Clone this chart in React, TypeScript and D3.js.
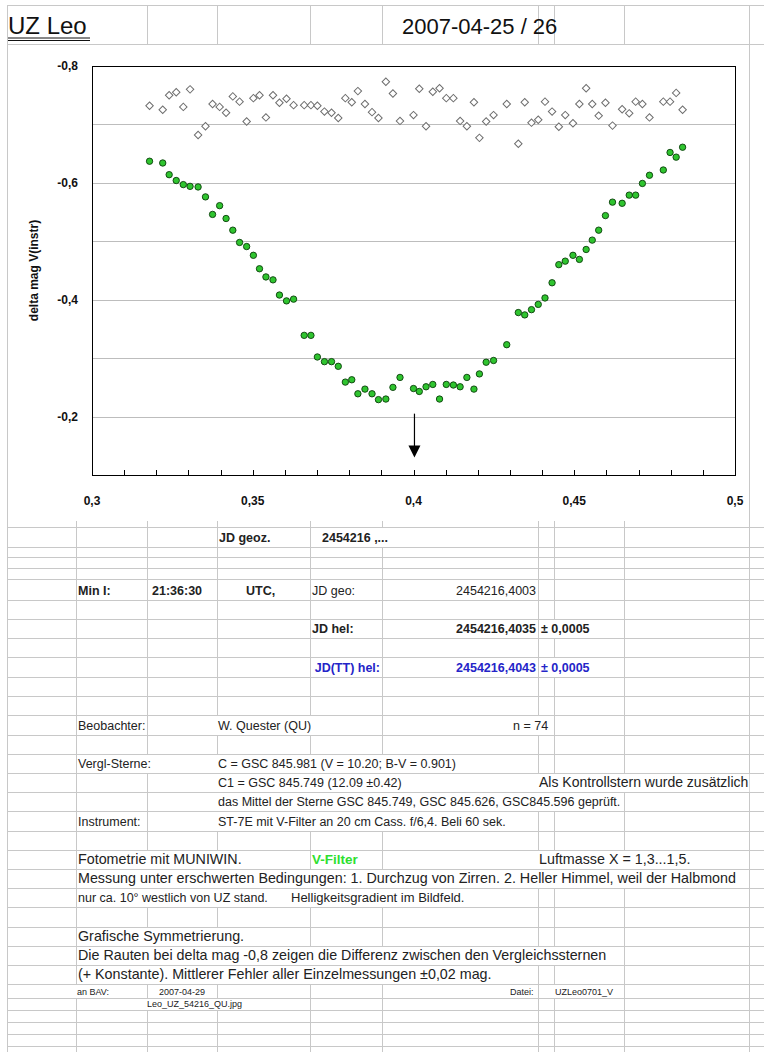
import React, { useEffect, useRef } from "react";
import * as d3 from "d3";

// JD geoz. minus 2454216 (fraction of day)
const jdFrac = [
  0.3179, 0.322, 0.324, 0.3262, 0.3284, 0.3305, 0.333, 0.3353, 0.3375, 0.3397,
  0.3417, 0.3438, 0.3459, 0.3481, 0.3502, 0.3521, 0.3541, 0.3563, 0.3583, 0.3605,
  0.3627, 0.366, 0.3681, 0.3701, 0.3723, 0.3745, 0.3766, 0.3788, 0.3808, 0.3827,
  0.3849, 0.3871, 0.3891, 0.3914, 0.3936, 0.3958, 0.4, 0.4018, 0.4039, 0.406,
  0.4081, 0.4102, 0.4124, 0.4145, 0.4166, 0.4188, 0.4205, 0.4226, 0.4249, 0.429,
  0.4326, 0.4346, 0.4367, 0.4388, 0.4409, 0.4431, 0.4452, 0.4472, 0.4496, 0.4516,
  0.4537, 0.4556, 0.4576, 0.4597, 0.4619, 0.4649, 0.4671, 0.4691, 0.4712, 0.4734,
  0.4777, 0.4798, 0.4817, 0.4837,
];

// delta mag V(instr) UZ Leo - C
const deltaMag = [
  -0.637, -0.634, -0.614, -0.604, -0.597, -0.594, -0.593, -0.576, -0.546, -0.561,
  -0.539, -0.519, -0.498, -0.491, -0.476, -0.453, -0.439, -0.434, -0.408, -0.398,
  -0.401, -0.339, -0.339, -0.302, -0.294, -0.294, -0.286, -0.259, -0.263, -0.239,
  -0.247, -0.239, -0.229, -0.23, -0.25, -0.267, -0.248, -0.243, -0.251, -0.255,
  -0.23, -0.255, -0.254, -0.251, -0.267, -0.247, -0.273, -0.293, -0.296, -0.323,
  -0.378, -0.374, -0.383, -0.392, -0.403, -0.429, -0.46, -0.466, -0.476, -0.469,
  -0.486, -0.502, -0.519, -0.544, -0.567, -0.565, -0.579, -0.579, -0.599, -0.613,
  -0.622, -0.652, -0.644, -0.661,
];

// Differenz der Vergleichssterne (+ Konstante)
const compDiff = [
  -0.732, -0.725, -0.75, -0.755, -0.73, -0.76, -0.682, -0.697, -0.735, -0.73,
  -0.72, -0.748, -0.739, -0.705, -0.745, -0.75, -0.712, -0.75, -0.737, -0.744,
  -0.733, -0.733, -0.733, -0.732, -0.722, -0.72, -0.711, -0.745, -0.738, -0.757,
  -0.735, -0.721, -0.711, -0.773, -0.753, -0.706, -0.716, -0.761, -0.697, -0.756,
  -0.762, -0.745, -0.745, -0.706, -0.697, -0.738, -0.677, -0.705, -0.716, -0.735,
  -0.667, -0.738, -0.703, -0.708, -0.739, -0.722, -0.696, -0.716, -0.702, -0.735,
  -0.762, -0.735, -0.715, -0.737, -0.698, -0.726, -0.719, -0.739, -0.735, -0.712,
  -0.739, -0.739, -0.754, -0.725,
];

const xTickLabels = [0.3, 0.35, 0.4, 0.45, 0.5];
const yTickLabels = [-0.8, -0.6, -0.4, -0.2];
const yGridValues = [-0.7, -0.6, -0.5, -0.4, -0.3, -0.2];
const minTime = 0.4003;
const arrowMag = [-0.205, -0.13];

const W = 764;
const H = 1052;
const FONT = "'Liberation Sans', Arial, sans-serif";

const App = () => {
  const svgRef = useRef<SVGSVGElement>(null);

  useEffect(() => {
    const svg = d3.select(svgRef.current);
    svg.selectAll("*").remove();

    // spreadsheet grid
    const colX = [7, 76, 147, 217, 310, 382, 538, 554, 624, 749];
    const rowY = [
      527, 547, 557, 568, 579, 600, 619, 638, 657, 677, 696, 715, 735, 754, 773,
      792, 811, 831, 850, 869, 888, 907, 927, 946, 965, 984, 998, 1010, 1022,
      1034, 1046,
    ];
    const grid = svg
      .append("g")
      .attr("stroke", "#c8c8c8")
      .attr("shape-rendering", "crispEdges");
    [5, 44, ...rowY].forEach((y) => {
      grid.append("line").attr("x1", 7).attr("x2", W).attr("y1", y + 0.5).attr("y2", y + 0.5);
    });
    colX.forEach((x) => {
      grid.append("line").attr("x1", x + 0.5).attr("x2", x + 0.5).attr("y1", 5).attr("y2", H);
    });

    // cell text, hides the grid lines it runs over (like Excel)
    const cell = (
      text: string,
      x: number,
      top: number,
      bottom: number,
      opts: { bold?: boolean; color?: string; size?: number; end?: boolean } = {}
    ) => {
      const g = svg.append("g");
      const bg = g.append("rect").attr("fill", "#fff");
      const size = opts.size ?? 12.5;
      const t = g
        .append("text")
        .attr("x", x)
        .attr("y", bottom - (size < 11 ? 3 : 5))
        .attr("font-family", FONT)
        .attr("font-size", size)
        .attr("font-weight", opts.bold ? "bold" : "normal")
        .attr("fill", opts.color ?? "#222")
        .attr("text-anchor", opts.end ? "end" : "start")
        .text(text);
      const len = (t.node() as SVGTextElement).getComputedTextLength();
      const x0 = opts.end ? x - len : x;
      bg.attr("x", x0 - 1)
        .attr("y", top + 1)
        .attr("width", len + 2)
        .attr("height", bottom - top - 1);
    };

    // header row
    const title = svg.append("g").attr("font-family", FONT).attr("fill", "#111");
    title.append("rect").attr("x", 8).attr("y", 6).attr("width", 86).attr("height", 38).attr("fill", "#fff");
    title.append("text").attr("x", 8).attr("y", 34).attr("font-size", 24).text("UZ Leo");
    title.append("line").attr("x1", 8).attr("x2", 90).attr("y1", 38).attr("y2", 38).attr("stroke", "#111");
    title.append("line").attr("x1", 8).attr("x2", 90).attr("y1", 40.5).attr("y2", 40.5).attr("stroke", "#111");
    title.append("text").attr("x", 402).attr("y", 34).attr("font-size", 22).text("2007-04-25 / 26");

    // chart object
    svg.append("rect").attr("x", 8).attr("y", 45).attr("width", 741).attr("height", 476).attr("fill", "#fff");

    const x = d3.scaleLinear().domain([0.3, 0.5]).range([92, 735]);
    const y = d3.scaleLinear().domain([-0.8, -0.1]).range([66, 475]);
    const loc = d3.formatLocale({
      decimal: ",",
      thousands: ".",
      grouping: [3],
      currency: ["", ""],
      minus: "-",
    });
    const fmt = loc.format("~g");

    const plot = svg.append("g");
    plot
      .selectAll(".hgrid")
      .data(yGridValues)
      .join("line")
      .attr("x1", x(0.3))
      .attr("x2", x(0.5))
      .attr("y1", (d) => Math.round(y(d)) + 0.5)
      .attr("y2", (d) => Math.round(y(d)) + 0.5)
      .attr("stroke", "#bdbdbd")
      .attr("shape-rendering", "crispEdges");

    plot
      .append("rect")
      .attr("x", x(0.3) + 0.5)
      .attr("y", y(-0.8) + 0.5)
      .attr("width", x(0.5) - x(0.3))
      .attr("height", y(-0.1) - y(-0.8))
      .attr("fill", "none")
      .attr("stroke", "#000")
      .attr("shape-rendering", "crispEdges");

    // x ticks (inside)
    plot
      .selectAll(".xt")
      .data(x.ticks(20))
      .join("line")
      .attr("x1", (d) => Math.round(x(d)) + 0.5)
      .attr("x2", (d) => Math.round(x(d)) + 0.5)
      .attr("y1", y(-0.1))
      .attr("y2", y(-0.1) - 5)
      .attr("stroke", "#000")
      .attr("shape-rendering", "crispEdges");

    plot
      .selectAll(".xl")
      .data(xTickLabels)
      .join("text")
      .attr("x", (d) => x(d))
      .attr("y", 505)
      .attr("text-anchor", "middle")
      .attr("font-family", FONT)
      .attr("font-size", 12)
      .attr("font-weight", "bold")
      .attr("fill", "#111")
      .text((d) => fmt(d));

    plot
      .selectAll(".yl")
      .data(yTickLabels)
      .join("text")
      .attr("x", 78)
      .attr("y", (d) => y(d))
      .attr("dy", "0.35em")
      .attr("text-anchor", "end")
      .attr("font-family", FONT)
      .attr("font-size", 12)
      .attr("font-weight", "bold")
      .attr("fill", "#111")
      .text((d) => loc.format(".1f")(d));

    plot
      .append("text")
      .attr("transform", `translate(38, ${(y(-0.8) + y(-0.1)) / 2}) rotate(-90)`)
      .attr("text-anchor", "middle")
      .attr("font-family", FONT)
      .attr("font-size", 12)
      .attr("font-weight", "bold")
      .attr("fill", "#111")
      .text("delta mag V(instr)");

    // comparison stars: open diamonds
    const diamond = d3.symbol(d3.symbolSquare, 28);
    plot
      .selectAll(".cmp")
      .data(jdFrac.map((t, i) => [t, compDiff[i]]))
      .join("path")
      .attr("d", diamond)
      .attr("transform", (d) => `translate(${x(d[0])},${y(d[1])}) rotate(45)`)
      .attr("fill", "#fff")
      .attr("stroke", "#6e6e6e")
      .attr("stroke-width", 1);

    // variable: green dots
    plot
      .selectAll(".var")
      .data(jdFrac.map((t, i) => [t, deltaMag[i]]))
      .join("circle")
      .attr("cx", (d) => x(d[0]))
      .attr("cy", (d) => y(d[1]))
      .attr("r", 3.2)
      .attr("fill", "#2fc42f")
      .attr("stroke", "#0b3d0b")
      .attr("stroke-width", 0.9);

    // minimum arrow
    const ax = x(minTime);
    const tip = y(arrowMag[1]);
    plot
      .append("line")
      .attr("x1", ax)
      .attr("x2", ax)
      .attr("y1", y(arrowMag[0]))
      .attr("y2", tip - 10)
      .attr("stroke", "#000")
      .attr("stroke-width", 1.2);
    plot
      .append("path")
      .attr("d", `M${ax - 6},${tip - 12}L${ax + 6},${tip - 12}L${ax},${tip}Z`)
      .attr("fill", "#000");

    // table below the chart
    const r = (i: number) => [rowY[i], rowY[i + 1]] as [number, number];
    const blue = "#2424c8";
    const green = "#2ee02e";
    const big = 14.3;

    cell("JD geoz.", 219, ...r(0), { bold: true });
    cell("2454216 ,...", 322, ...r(0), { bold: true });

    cell("Min I:", 78, ...r(4), { bold: true });
    cell("21:36:30", 152, ...r(4), { bold: true });
    cell("UTC,", 246, ...r(4), { bold: true });
    cell("JD geo:", 312, ...r(4));
    cell("2454216,4003", 536, ...r(4), { end: true });

    cell("JD hel:", 312, ...r(6), { bold: true });
    cell("2454216,4035", 536, ...r(6), { bold: true, end: true });
    cell("± 0,0005", 541, ...r(6), { bold: true });

    cell("JD(TT) hel:", 380, ...r(8), { bold: true, color: blue, end: true });
    cell("2454216,4043", 536, ...r(8), { bold: true, color: blue, end: true });
    cell("± 0,0005", 541, ...r(8), { bold: true, color: blue });

    cell("Beobachter:", 78, ...r(11));
    cell("W. Quester (QU)", 218, ...r(11));
    cell("n = 74", 513, ...r(11));

    cell("Vergl-Sterne:", 78, ...r(13));
    cell("C = GSC 845.981 (V = 10.20; B-V = 0.901)", 218, ...r(13));
    cell("C1 = GSC 845.749 (12.09 ±0.42)", 218, ...r(14));
    cell("Als Kontrollstern wurde zusätzlich", 539, ...r(14), { size: 14 });
    cell("das Mittel der Sterne GSC 845.749, GSC 845.626, GSC845.596 geprüft.", 218, ...r(15));
    cell("Instrument:", 78, ...r(16));
    cell("ST-7E mit V-Filter an 20 cm Cass. f/6,4. Beli 60 sek.", 218, ...r(16));

    cell("Fotometrie mit MUNIWIN.", 78, ...r(18), { size: big });
    cell("V-Filter", 312, ...r(18), { bold: true, color: green, size: 13.5 });
    cell("Luftmasse X = 1,3...1,5.", 539, ...r(18), { size: big });
    cell(
      "Messung unter erschwerten Bedingungen: 1. Durchzug von Zirren. 2. Heller Himmel, weil der Halbmond",
      78,
      ...r(19),
      { size: big }
    );
    cell("nur ca. 10° westlich von UZ stand.", 78, ...r(20));
    cell("Helligkeitsgradient im Bildfeld.", 291, ...r(20), { size: 13 });

    cell("Grafische Symmetrierung.", 78, ...r(22), { size: big });
    cell(
      "Die Rauten bei delta mag -0,8 zeigen die Differenz zwischen den Vergleichssternen",
      78,
      ...r(23),
      { size: big }
    );
    cell("(+ Konstante). Mittlerer Fehler aller Einzelmessungen ±0,02 mag.", 78, ...r(24), { size: big });

    cell("an BAV:", 77, ...r(25), { size: 9 });
    cell("2007-04-29", 159, ...r(25), { size: 9 });
    cell("Datei:", 510, ...r(25), { size: 9 });
    cell("UZLeo0701_V", 555, ...r(25), { size: 9 });
    cell("Leo_UZ_54216_QU.jpg", 147, ...r(26), { size: 9 });
  }, []);

  return (
    <svg
      ref={svgRef}
      width={W}
      height={H}
      style={{ position: "absolute", left: 0, top: 0, background: "#fff" }}
    />
  );
};

export default App;
